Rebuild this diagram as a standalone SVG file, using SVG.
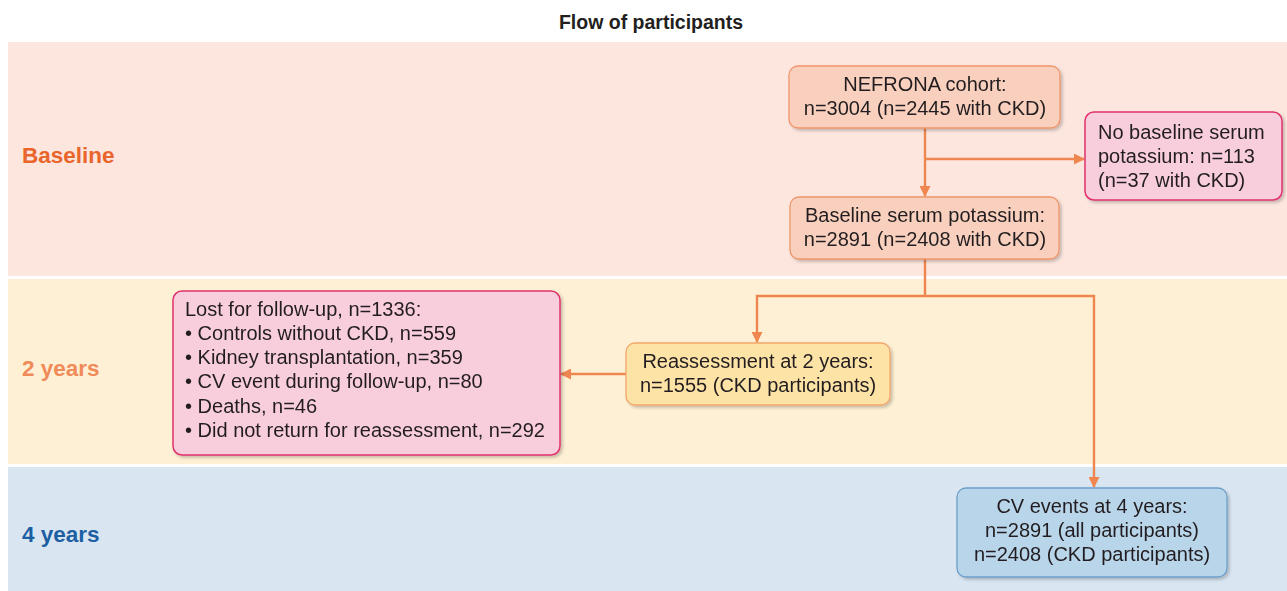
<svg xmlns="http://www.w3.org/2000/svg" width="1287" height="591" viewBox="0 0 1287 591">
<defs>
<style>
.t{font-family:"Liberation Sans",Arial,sans-serif;font-size:20px;fill:#231f20}
.c{text-anchor:middle}
.band{font-family:"Liberation Sans",Arial,sans-serif;font-size:22.5px;font-weight:bold}
.conn{stroke:#ef8650;stroke-width:2.4;fill:none}
.orange{fill:#f9d0bd;stroke:#f0956a;stroke-width:1.3}
.pink{fill:#f8cddc;stroke:#e0336c;stroke-width:1.5}
.yellow{fill:#fde3a6;stroke:#f2a66a;stroke-width:1.3}
.blue{fill:#b9d5ea;stroke:#6d9fcb;stroke-width:1.3}
</style>
<marker id="ah" markerWidth="11" markerHeight="11" refX="10" refY="5.5" orient="auto" markerUnits="userSpaceOnUse">
<path d="M0,0 L11,5.5 L0,11 z" fill="#ef8650"/>
</marker>
<filter id="sh" x="-5%" y="-5%" width="115%" height="125%">
<feDropShadow dx="2" dy="2" stdDeviation="1.5" flood-color="#000" flood-opacity="0.22"/>
</filter>
</defs>
<rect width="1287" height="591" fill="#ffffff"/>
<text x="651" y="29" class="t c" style="font-weight:bold;font-size:19.5px">Flow of participants</text>
<g id="bands">
<rect x="8" y="42" width="1279" height="234" fill="#fce6de"/>
<rect x="8" y="279" width="1279" height="185" fill="#fef0d4"/>
<rect x="8" y="467" width="1279" height="124" fill="#d9e6f1"/>
<text x="22" y="163" class="band" fill="#e9652c">Baseline</text>
<text x="22" y="376" class="band" fill="#f08a58">2 years</text>
<text x="22" y="542" class="band" fill="#1d5fa3">4 years</text>
</g>
<g id="connectors">
<line class="conn" x1="925" y1="128" x2="925" y2="196" marker-end="url(#ah)"/>
<line class="conn" x1="925" y1="159" x2="1084" y2="159" marker-end="url(#ah)"/>
<polyline class="conn" points="925,259 925,296 757,296 757,342" marker-end="url(#ah)"/>
<polyline class="conn" points="925,296 1094,296 1094,487" marker-end="url(#ah)"/>
<line class="conn" x1="626" y1="374" x2="561" y2="374" marker-end="url(#ah)"/>
</g>
<g id="nefrona" filter="url(#sh)">
<rect class="orange" x="789" y="66" width="271" height="62" rx="9"/>
<text class="t c" x="925" y="91">NEFRONA cohort:</text>
<text class="t c" x="925" y="115">n=3004 (n=2445 with CKD)</text>
</g>
<g id="no-baseline" filter="url(#sh)">
<rect class="pink" x="1085" y="112" width="197" height="88" rx="9"/>
<text class="t" x="1098" y="139">No baseline serum</text>
<text class="t" x="1098" y="163">potassium: n=113</text>
<text class="t" x="1098" y="187">(n=37 with CKD)</text>
</g>
<g id="baseline-k" filter="url(#sh)">
<rect class="orange" x="790" y="197" width="269" height="62" rx="9"/>
<text class="t c" x="925" y="222">Baseline serum potassium:</text>
<text class="t c" x="925" y="246">n=2891 (n=2408 with CKD)</text>
</g>
<g id="lost" filter="url(#sh)">
<rect class="pink" x="173" y="291" width="387" height="164" rx="9"/>
<text class="t" x="185" y="316">Lost for follow-up, n=1336:</text>
<text class="t" x="185" y="340">• Controls without CKD, n=559</text>
<text class="t" x="185" y="364">• Kidney transplantation, n=359</text>
<text class="t" x="185" y="388">• CV event during follow-up, n=80</text>
<text class="t" x="185" y="413">• Deaths, n=46</text>
<text class="t" x="185" y="437">• Did not return for reassessment, n=292</text>
</g>
<g id="reassessment" filter="url(#sh)">
<rect class="yellow" x="626" y="343" width="264" height="62" rx="9"/>
<text class="t c" x="758" y="368">Reassessment at 2 years:</text>
<text class="t c" x="758" y="392">n=1555 (CKD participants)</text>
</g>
<g id="cv-events" filter="url(#sh)">
<rect class="blue" x="957" y="488" width="270" height="89" rx="9"/>
<text class="t c" x="1092" y="513">CV events at 4 years:</text>
<text class="t c" x="1092" y="537">n=2891 (all participants)</text>
<text class="t c" x="1092" y="561">n=2408 (CKD participants)</text>
</g>
</svg>
